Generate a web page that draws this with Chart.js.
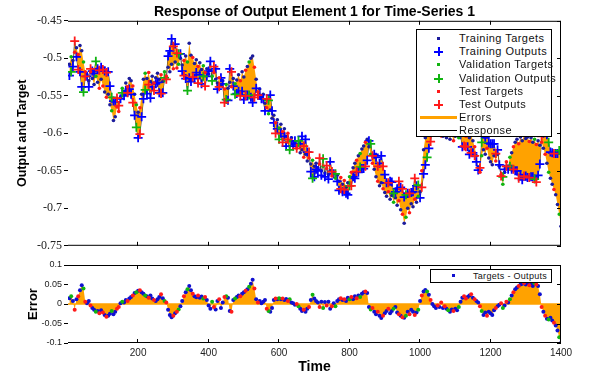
<!DOCTYPE html>
<html>
<head>
<meta charset="utf-8">
<title>Response of Output Element 1 for Time-Series 1</title>
<script src="https://cdn.jsdelivr.net/npm/chart.js@4.4.1/dist/chart.umd.min.js"></script>
<style>
  html, body { margin: 0; padding: 0; background: #fff; }
  #wrap { position: relative; width: 592px; height: 388px; overflow: hidden;
          font-family: "Liberation Sans", Arial, sans-serif; color: #111; }
  #top { position: absolute; left: 0; top: 0; }
  #bot { position: absolute; left: 0; top: 255px; }
  .legend { position: absolute; background: #fff; border: 1px solid #000; box-sizing: border-box; }
  .row { position: absolute; left: 0; right: 0; height: 13px; }
  .txt { position: absolute; top: 0; line-height: 13px; white-space: nowrap; }
  .dot { position: absolute; width: 3px; height: 3px; }
  .plus { position: absolute; width: 9px; height: 9px; }
  .ln { position: absolute; }
</style>
</head>
<body>
<div id="wrap">
  <canvas id="top" width="592" height="255"></canvas>
  <canvas id="bot" width="592" height="133"></canvas>

  <!-- legend of the response plot -->
  <div class="legend" style="left:416px; top:29px; width:136px; height:108px;">
    <div class="row" style="top:2px"><div class="dot" style="left:20px; top:5px; background:#1c1c9c"></div><span class="txt" style="left:42px; font-size:11px; letter-spacing:0.45px">Training Targets</span></div>
    <div class="row" style="top:15px"><div class="plus" style="left:17px; top:2px; background:linear-gradient(#0000ff,#0000ff) center/100% 2px no-repeat, linear-gradient(#0000ff,#0000ff) center/2px 100% no-repeat"></div><span class="txt" style="left:42px; font-size:11px; letter-spacing:0.45px">Training Outputs</span></div>
    <div class="row" style="top:28px"><div class="dot" style="left:20px; top:5px; background:#11b411"></div><span class="txt" style="left:42px; font-size:11px; letter-spacing:0.45px">Validation Targets</span></div>
    <div class="row" style="top:42px"><div class="plus" style="left:17px; top:2px; background:linear-gradient(#11b411,#11b411) center/100% 2px no-repeat, linear-gradient(#11b411,#11b411) center/2px 100% no-repeat"></div><span class="txt" style="left:42px; font-size:11px; letter-spacing:0.45px">Validation Outputs</span></div>
    <div class="row" style="top:55px"><div class="dot" style="left:20px; top:5px; background:#ff1a1a"></div><span class="txt" style="left:42px; font-size:11px; letter-spacing:0.45px">Test Targets</span></div>
    <div class="row" style="top:68px"><div class="plus" style="left:17px; top:2px; background:linear-gradient(#ff1a1a,#ff1a1a) center/100% 2px no-repeat, linear-gradient(#ff1a1a,#ff1a1a) center/2px 100% no-repeat"></div><span class="txt" style="left:42px; font-size:11px; letter-spacing:0.45px">Test Outputs</span></div>
    <div class="row" style="top:81px"><div class="ln" style="left:3px; top:5px; width:37px; height:3px; background:#ffa200"></div><span class="txt" style="left:42px; font-size:11px; letter-spacing:0.45px">Errors</span></div>
    <div class="row" style="top:94px"><div class="ln" style="left:3px; top:6px; width:37px; height:1px; background:#000"></div><span class="txt" style="left:42px; font-size:11px; letter-spacing:0.45px">Response</span></div>
  </div>

  <!-- legend of the error plot -->
  <div class="legend" style="left:430px; top:269px; width:122px; height:14px;">
    <div class="dot" style="left:21px; top:4px; background:#1010d0"></div>
    <span class="txt" style="left:42px; top:0; line-height:12px; font-size:9px; letter-spacing:0.3px">Targets - Outputs</span>
  </div>
</div>

<script>
// targets, one value every 5 time steps (t = 5 .. 1400)
const targets = [
  -0.508, -0.498, -0.503, -0.492, -0.486, -0.495, -0.483, -0.490, -0.505, -0.518,
  -0.522, -0.530, -0.518, -0.527, -0.535, -0.524, -0.532, -0.540, -0.528, -0.537,
  -0.545, -0.552, -0.548, -0.562, -0.570, -0.583, -0.578, -0.565, -0.571, -0.552,
  -0.540, -0.546, -0.533, -0.538, -0.527, -0.530, -0.537, -0.548, -0.562, -0.572,
  -0.566, -0.548, -0.528, -0.520, -0.527, -0.519, -0.531, -0.524, -0.533, -0.526,
  -0.520, -0.528, -0.522, -0.531, -0.518, -0.524, -0.512, -0.518, -0.508, -0.514,
  -0.505, -0.513, -0.508, -0.500, -0.509, -0.503, -0.497, -0.505, -0.480, -0.496,
  -0.499, -0.507, -0.502, -0.511, -0.506, -0.515, -0.510, -0.519, -0.514, -0.521,
  -0.516, -0.524, -0.519, -0.528, -0.533, -0.526, -0.536, -0.530, -0.541, -0.535,
  -0.540, -0.532, -0.538, -0.527, -0.534, -0.529, -0.522, -0.530, -0.518, -0.525,
  -0.516, -0.511, -0.505, -0.500, -0.497, -0.512, -0.528, -0.545, -0.541, -0.552,
  -0.548, -0.560, -0.566, -0.574, -0.569, -0.580, -0.576, -0.586, -0.582, -0.593,
  -0.588, -0.598, -0.594, -0.604, -0.600, -0.610, -0.606, -0.615, -0.612, -0.620,
  -0.616, -0.626, -0.622, -0.632, -0.628, -0.637, -0.633, -0.641, -0.636, -0.644,
  -0.640, -0.646, -0.641, -0.650, -0.644, -0.653, -0.647, -0.655, -0.650, -0.657,
  -0.652, -0.660, -0.656, -0.664, -0.659, -0.668, -0.663, -0.672, -0.666, -0.658,
  -0.652, -0.646, -0.640, -0.636, -0.630, -0.627, -0.621, -0.617, -0.612, -0.608,
  -0.618, -0.628, -0.640, -0.648, -0.658, -0.664, -0.670, -0.666, -0.674, -0.679,
  -0.684, -0.678, -0.688, -0.683, -0.692, -0.686, -0.696, -0.690, -0.702, -0.708,
  -0.720, -0.712, -0.700, -0.706, -0.694, -0.698, -0.688, -0.692, -0.684, -0.678,
  -0.650, -0.622, -0.606, -0.600, -0.596, -0.601, -0.592, -0.596, -0.588, -0.594,
  -0.600, -0.596, -0.604, -0.598, -0.606, -0.600, -0.608, -0.602, -0.610, -0.604,
  -0.598, -0.606, -0.596, -0.602, -0.597, -0.604, -0.600, -0.606, -0.601, -0.610,
  -0.618, -0.630, -0.645, -0.652, -0.630, -0.622, -0.628, -0.620, -0.633, -0.638,
  -0.642, -0.630, -0.637, -0.628, -0.644, -0.655, -0.668, -0.652, -0.638, -0.644,
  -0.632, -0.626, -0.618, -0.612, -0.608, -0.614, -0.605, -0.610, -0.603, -0.607,
  -0.605, -0.611, -0.606, -0.612, -0.608, -0.615, -0.610, -0.616, -0.612, -0.620,
  -0.628, -0.640, -0.652, -0.660, -0.668, -0.675, -0.682, -0.695, -0.708, -0.724
];

// errors = targets - outputs, same time steps
const errors = [
  0.015, 0.020, 0.008, -0.015, 0.012, 0.020, 0.035, 0.048, 0.040, 0.006,
  0.002, 0.008, -0.004, -0.010, -0.015, -0.020, -0.018, -0.024, -0.016, -0.022,
  -0.028, -0.033, -0.030, -0.025, -0.018, -0.026, -0.020, -0.012, -0.008, 0.002,
  0.006, 0.004, 0.010, 0.008, 0.014, 0.018, 0.022, 0.028, 0.030, 0.034,
  0.035, 0.030, 0.026, 0.022, 0.020, 0.016, 0.022, 0.014, 0.010, 0.008,
  0.012, 0.018, 0.025, 0.015, 0.008, 0.004, -0.015, -0.028, -0.034, -0.030,
  -0.024, -0.020, -0.014, -0.006, 0.008, 0.020, 0.030, 0.038, 0.046, 0.035,
  0.026, 0.020, 0.017, 0.022, 0.016, 0.019, 0.014, 0.018, 0.010, -0.004,
  -0.012, 0.006, -0.008, -0.014, 0.008, 0.012, -0.010, 0.004, 0.018, 0.020,
  0.016, -0.018, -0.020, 0.010, 0.014, 0.018, 0.022, 0.020, 0.026, 0.030,
  0.034, 0.038, 0.044, 0.052, 0.062, 0.040, 0.012, 0.004, 0.008, 0.002,
  0.006, 0.010, -0.012, -0.018, -0.020, -0.010, 0.010, 0.014, 0.012, 0.015,
  0.012, 0.014, 0.010, 0.013, 0.008, 0.012, 0.004, 0.002, -0.002, 0.000,
  -0.006, -0.012, -0.018, -0.015, -0.020, -0.012, -0.008, 0.010, 0.024, 0.014,
  0.008, 0.004, -0.008, 0.006, -0.010, 0.005, -0.004, 0.006, -0.012, -0.006,
  0.002, -0.006, 0.008, 0.012, 0.015, 0.010, 0.012, 0.008, 0.016, 0.012,
  0.018, 0.012, 0.020, 0.015, 0.022, 0.018, 0.026, 0.030, 0.032, 0.028,
  -0.008, -0.014, -0.010, -0.020, -0.026, -0.020, -0.030, -0.036, -0.030, -0.024,
  -0.018, -0.012, -0.024, -0.018, -0.012, -0.008, -0.022, -0.026, -0.030, -0.034,
  -0.035, -0.030, -0.020, -0.026, -0.015, -0.020, -0.028, -0.022, -0.015, 0.008,
  0.022, 0.032, 0.036, 0.032, 0.024, 0.010, 0.000, -0.006, -0.010, -0.004,
  -0.008, 0.004, -0.010, -0.006, -0.012, -0.016, -0.020, -0.014, -0.018, -0.012,
  -0.016, -0.008, 0.006, 0.016, 0.020, 0.014, 0.018, 0.022, 0.025, 0.016,
  0.012, 0.008, 0.004, -0.006, -0.018, -0.028, -0.022, -0.030, -0.020, -0.024,
  -0.028, -0.016, -0.010, -0.006, -0.002, 0.002, -0.010, -0.004, 0.006, 0.004,
  0.012, 0.022, 0.030, 0.038, 0.042, 0.046, 0.050, 0.052, 0.054, 0.050,
  0.054, 0.048, 0.052, 0.046, 0.053, 0.050, 0.046, 0.025, -0.008, -0.020,
  -0.030, -0.038, -0.040, -0.035, -0.042, -0.048, -0.055, -0.068, -0.085, -0.100
];

// subset of each sample: A = training, V = validation, T = test
const split = [
  'AVATATAAVT', 'AATAAVATAT', 'ATAAVAATTA', 'VAATAATAVA', 'TAAVATAATA',
  'AATAVTAAAT', 'ATVAATAVAA', 'TAATAAVTAA', 'AVTAATAATV', 'AATAVAATAA',
  'TAVAATATAA', 'AATVAAATAV', 'ATAATVAAAT', 'VAATAATAVA', 'AATAVATAAT',
  'AVAATATAAV', 'TAATAVAATA', 'AVTAATAATA', 'ATAAVAATAT', 'AVATAATAVA',
  'TAAVATAAAT', 'ATATAVAATA', 'AVAATTAATA', 'TAATVAATAA', 'AATAATVATA',
  'VATAATAATA', 'ATAAVTAATA', 'TAVAATAAVA'
].join('');

const xTicks = [200, 400, 600, 800, 1000, 1200, 1400];
const xTickLabels = ['200', '400', '600', '800', '1000', '1200', '1400'];
const yTicks = [-0.75, -0.7, -0.65, -0.6, -0.55, -0.5, -0.45];
const yTickLabels = ['-0.75', '-0.7', '-0.65', '-0.6', '-0.55', '-0.5', '-0.45'];
const eTicks = [-0.1, -0.05, 0, 0.05, 0.1];
const eTickLabels = ['-0.1', '-0.05', '0', '0.05', '0.1'];

const step = 5;
const times = targets.map(function (v, i) { return (i + 1) * step; });
const outputs = targets.map(function (v, i) { return +(v - errors[i]).toFixed(4); });

const BLUE = '#0000ff', NAVY = '#1c1c9c', GREEN = '#11b411', RED = '#ff1a1a', ORANGE = '#ffa200';

function pick(vals, code) {
  var out = [];
  for (var i = 0; i < vals.length; i++) {
    if (!code || split[i] === code) out.push({ x: times[i], y: vals[i] });
  }
  return out;
}

Chart.defaults.font.family = '"Liberation Sans", Arial, sans-serif';
Chart.defaults.color = '#222';

// box lines on top/right/bottom and inward tick marks, like the matlab axes
var frame = {
  id: 'frame',
  afterDatasetsDraw: function (chart) {
    var ctx = chart.ctx, a = chart.chartArea;
    var x = chart.scales.x, y = chart.scales.y;
    ctx.save();
    ctx.strokeStyle = '#000';
    ctx.lineWidth = 1;
    ctx.beginPath();
    ctx.moveTo(a.left, a.top + 0.5);
    ctx.lineTo(a.right - 0.5, a.top + 0.5);
    ctx.lineTo(a.right - 0.5, a.bottom - 0.5);
    ctx.lineTo(a.left, a.bottom - 0.5);
    x.ticks.forEach(function (t) {
      var px = Math.round(x.getPixelForValue(t.value)) - 0.5;
      ctx.moveTo(px, a.top); ctx.lineTo(px, a.top + 4);
      ctx.moveTo(px, a.bottom); ctx.lineTo(px, a.bottom - 4);
    });
    y.ticks.forEach(function (t) {
      var py = Math.round(y.getPixelForValue(t.value)) + 0.5;
      ctx.moveTo(a.right, py); ctx.lineTo(a.right - 4, py);
    });
    ctx.stroke();
    ctx.restore();
  }
};

function setTicks(list) {
  return function (s) { s.ticks = list.map(function (v) { return { value: v }; }); };
}

function markers(label, vals, code, color, cross, r) {
  return {
    label: label,
    data: pick(vals, code),
    showLine: false,
    pointStyle: cross ? 'cross' : 'circle',
    pointRadius: cross ? 4.5 : (r || 1.8),
    pointBorderWidth: cross ? 1.8 : 0,
    pointBorderColor: color,
    pointBackgroundColor: color,
    borderColor: color,
    backgroundColor: color
  };
}

new Chart(document.getElementById('top'), {
  type: 'line',
  data: {
    datasets: [
      markers('Test Outputs', outputs, 'T', RED, true),
      markers('Test Targets', targets, 'T', RED, false),
      markers('Validation Outputs', outputs, 'V', GREEN, true),
      markers('Validation Targets', targets, 'V', GREEN, false),
      markers('Training Outputs', outputs, 'A', BLUE, true),
      markers('Training Targets', targets, 'A', NAVY, false),
      {
        label: 'Errors',
        data: pick(targets),
        borderWidth: 0,
        pointRadius: 0,
        backgroundColor: ORANGE,
        fill: '+1'
      },
      {
        label: 'Response',
        data: pick(outputs),
        borderColor: '#000',
        borderWidth: 0.8,
        pointRadius: 0,
        fill: false
      }
    ]
  },
  options: {
    responsive: false,
    animation: false,
    events: [],
    layout: { padding: { left: 0, right: 31, top: 0, bottom: 0 } },
    plugins: {
      legend: { display: false },
      tooltip: { enabled: false },
      title: {
        display: true,
        text: 'Response of Output Element 1 for Time-Series 1',
        color: '#000',
        fullSize: false,
        font: { size: 14, weight: 'bold' },
        padding: { top: 4, bottom: 0 }
      }
    },
    scales: {
      x: {
        type: 'linear',
        min: 1,
        max: 1400,
        afterBuildTicks: setTicks(xTicks),
        ticks: { display: false },
        grid: { display: false, drawTicks: false },
        border: { display: false },
        afterFit: function (s) { s.height = 8; }
      },
      y: {
        min: -0.75,
        max: -0.45,
        afterBuildTicks: setTicks(yTicks),
        ticks: {
          padding: 2,
          color: '#222',
          font: { family: '"Liberation Serif", serif', size: 12 },
          callback: function (v, i) { return yTickLabels[i]; }
        },
        grid: { drawOnChartArea: false, drawTicks: true, tickLength: 4, color: '#000' },
        border: { display: false },
        title: {
          display: true,
          text: 'Output and Target',
          color: '#000',
          font: { size: 12.5, weight: 'bold' },
          padding: { top: 15.5, bottom: 0 }
        },
        afterFit: function (s) { s.width = 68; }
      }
    }
  },
  plugins: [frame]
});

new Chart(document.getElementById('bot'), {
  type: 'line',
  data: {
    datasets: [
      markers('Test', errors, 'T', RED, false, 2),
      markers('Validation', errors, 'V', GREEN, false, 2),
      markers('Training', errors, 'A', '#1010d0', false, 2),
      {
        label: 'Targets - Outputs',
        data: pick(errors),
        borderWidth: 0,
        pointRadius: 0,
        backgroundColor: ORANGE,
        fill: 'origin'
      },
      {
        label: 'Zero',
        data: [{ x: 1, y: 0 }, { x: 1400, y: 0 }],
        borderColor: ORANGE,
        borderWidth: 1.5,
        pointRadius: 0,
        fill: false
      }
    ]
  },
  options: {
    responsive: false,
    animation: false,
    events: [],
    layout: { padding: { left: 0, right: 31, top: 10, bottom: 0 } },
    plugins: {
      legend: { display: false },
      tooltip: { enabled: false },
      filler: { drawTime: 'beforeDatasetsDraw' }
    },
    scales: {
      x: {
        type: 'linear',
        min: 1,
        max: 1400,
        afterBuildTicks: setTicks(xTicks),
        ticks: {
          padding: 4,
          maxRotation: 0,
          autoSkip: false,
          color: '#222',
          font: { size: 10 },
          callback: function (v, i) { return xTickLabels[i]; }
        },
        grid: { display: false, drawTicks: false },
        border: { display: false },
        title: {
          display: true,
          text: 'Time',
          color: '#000',
          font: { size: 14, weight: 'bold' },
          padding: { top: 0, bottom: 12.6 }
        },
        afterFit: function (s) { s.height = 45; }
      },
      y: {
        min: -0.1,
        max: 0.1,
        afterBuildTicks: setTicks(eTicks),
        ticks: {
          padding: 2,
          autoSkip: false,
          color: '#222',
          font: { size: 9 },
          callback: function (v, i) { return eTickLabels[i]; }
        },
        grid: { drawOnChartArea: false, drawTicks: true, tickLength: 4, color: '#000' },
        border: { display: false },
        title: {
          display: true,
          text: 'Error',
          color: '#000',
          font: { size: 13, weight: 'bold' },
          padding: { top: 26, bottom: 0 }
        },
        afterFit: function (s) { s.width = 68; }
      }
    }
  },
  plugins: [frame]
});
</script>
</body>
</html>
